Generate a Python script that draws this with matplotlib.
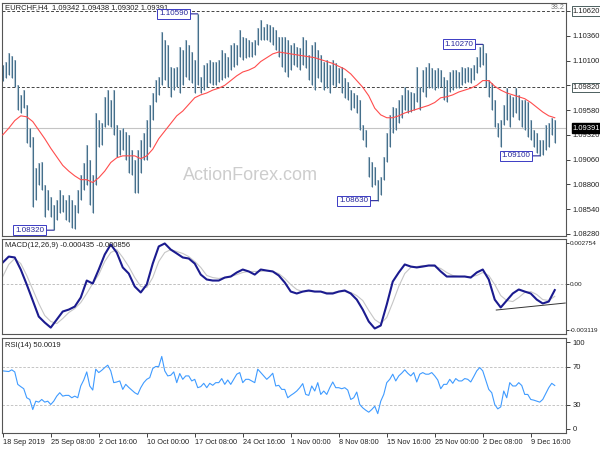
import numpy as np
import matplotlib
matplotlib.use('Agg')
import matplotlib.pyplot as plt
from matplotlib.transforms import blended_transform_factory

plt.rcParams['font.family'] = ['Liberation Sans', 'DejaVu Sans']
plt.rcParams['font.size'] = 5.5

## EURCHF H4, one entry = 2 bars (high / low)
hi = [1.1005, 1.1009, 1.1018, 1.1015, 1.1011, 1.0984, 1.0974, 1.0979, 1.0963, 1.0939,
      1.0930, 1.0897, 1.0903, 1.0904, 1.0879, 1.0874, 1.0867, 1.0858, 1.0864, 1.0874,
      1.0869, 1.0864, 1.0869, 1.0864, 1.0858, 1.0874, 1.0890, 1.0903, 1.0921, 1.0906,
      1.0890, 1.0955, 1.0948, 1.0945, 1.0972, 1.0979, 1.0969, 1.0979, 1.0942, 1.0937,
      1.0939, 1.0935, 1.0932, 1.0916, 1.0906, 1.0916, 1.0927, 1.0934, 1.0948, 1.0963,
      1.0976, 1.0990, 1.0993, 1.1040, 1.1032, 1.1026, 1.1003, 1.1002, 1.1003, 1.1024,
      1.1021, 1.1032, 1.1026, 1.1019, 1.1011, 1.1059, 1.0993, 1.1005, 1.1007, 1.1011,
      1.1009, 1.1009, 1.1011, 1.1021, 1.1018, 1.1014, 1.1026, 1.1028, 1.1026, 1.1042,
      1.1035, 1.1034, 1.1032, 1.1029, 1.1032, 1.1044, 1.1053, 1.1045, 1.1048, 1.1047,
      1.1045, 1.1042, 1.1035, 1.1035, 1.1035, 1.1032, 1.1026, 1.1028, 1.1024, 1.1023,
      1.1035, 1.1032, 1.1016, 1.1026, 1.1029, 1.1021, 1.1016, 1.1009, 1.1011, 1.1005,
      1.1011, 1.1007, 1.1002, 1.1003, 1.0992, 1.0988, 1.0979, 1.0976, 1.0974, 1.0969,
      1.0942, 1.0937, 1.0909, 1.0904, 1.0898, 1.0885, 1.0888, 1.0909, 1.0934, 1.0953,
      1.0961, 1.0960, 1.0969, 1.0974, 1.0982, 1.0979, 1.0977, 1.0976, 1.1003, 1.0982,
      1.1000, 1.1003, 1.1007, 1.1002, 1.1000, 1.1002, 1.1000, 1.0993, 1.0990, 1.0998,
      1.1000, 1.1000, 1.0998, 1.1003, 1.1002, 1.1003, 1.1002, 1.1005, 1.1014, 1.1024,
      1.1027, 1.1018, 1.0990, 1.0986, 1.0969, 1.0945, 1.0948, 1.0963, 1.0981, 1.0974,
      1.0972, 1.0981, 1.0974, 1.0969, 1.0969, 1.0966, 1.0948, 1.0937, 1.0934, 1.0927,
      1.0927, 1.0942, 1.0945, 1.0950, 1.0948]
lo = [1.0989, 1.0992, 1.0995, 1.0992, 1.0982, 1.0958, 1.0955, 1.0960, 1.0924, 1.0919,
      1.0856, 1.0864, 1.0879, 1.0874, 1.0846, 1.0853, 1.0846, 1.0832, 1.0843, 1.0850,
      1.0851, 1.0843, 1.0841, 1.0834, 1.0833, 1.0850, 1.0864, 1.0874, 1.0879, 1.0858,
      1.0850, 1.0879, 1.0919, 1.0921, 1.0940, 1.0942, 1.0940, 1.0932, 1.0909, 1.0911,
      1.0916, 1.0906, 1.0892, 1.0890, 1.0871, 1.0871, 1.0892, 1.0906, 1.0906, 1.0919,
      1.0948, 1.0966, 1.0974, 1.0984, 1.0990, 1.0982, 1.0972, 1.0979, 1.0982, 1.0976,
      1.0984, 1.0993, 1.0990, 1.0986, 1.0976, 1.0984, 1.0976, 1.0979, 1.0982, 1.0986,
      1.0984, 1.0984, 1.0988, 1.0990, 1.0992, 1.0993, 1.1000, 1.1003, 1.1005, 1.1014,
      1.1011, 1.1013, 1.1014, 1.1014, 1.1016, 1.1026, 1.1032, 1.1032, 1.1032, 1.1029,
      1.1026, 1.1021, 1.1014, 1.1003, 1.0998, 1.0993, 1.1000, 1.1005, 1.1003, 1.1000,
      1.1005, 1.1002, 1.0990, 1.0984, 1.0979, 1.0992, 1.0988, 1.0979, 1.0981, 1.0976,
      1.0984, 1.0982, 1.0986, 1.0976, 1.0971, 1.0969, 1.0958, 1.0960, 1.0955, 1.0937,
      1.0927, 1.0919, 1.0888, 1.0877, 1.0879, 1.0863, 1.0869, 1.0885, 1.0904, 1.0919,
      1.0934, 1.0937, 1.0945, 1.0950, 1.0958, 1.0955, 1.0956, 1.0958, 1.0966, 1.0958,
      1.0977, 1.0972, 1.0981, 1.0981, 1.0979, 1.0981, 1.0982, 1.0969, 1.0967, 1.0977,
      1.0979, 1.0981, 1.0981, 1.0984, 1.0986, 1.0988, 1.0986, 1.0990, 1.0997, 1.1003,
      1.1005, 1.0982, 1.0972, 1.0958, 1.0940, 1.0930, 1.0919, 1.0942, 1.0948, 1.0940,
      1.0951, 1.0955, 1.0948, 1.0940, 1.0937, 1.0930, 1.0927, 1.0919, 1.0913, 1.0910,
      1.0911, 1.0916, 1.0919, 1.0932, 1.0924]

## moving average, MACD, signal : one entry = 4 bars
ma = [1.0932, 1.0939, 1.0947, 1.0952, 1.0951, 1.0946, 1.0937, 1.0928, 1.0918, 1.0909,
      1.0900, 1.0894, 1.0889, 1.0885, 1.0885, 1.0882, 1.0887, 1.0894, 1.0903, 1.0908,
      1.0910, 1.0910, 1.0910, 1.0907, 1.0910, 1.0917, 1.0928, 1.0936, 1.0944, 1.0952,
      1.0957, 1.0964, 1.0971, 1.0974, 1.0976, 1.0979, 1.0981, 1.0984, 1.0989, 1.0994,
      1.0998, 1.1000, 1.1003, 1.1009, 1.1013, 1.1017, 1.1019, 1.1018, 1.1017, 1.1016,
      1.1015, 1.1014, 1.1013, 1.1011, 1.1009, 1.1007, 1.1004, 1.1001, 1.0996, 1.0989,
      1.0982, 1.0973, 1.0960, 1.0953, 1.0950, 1.0950, 1.0952, 1.0955, 1.0957, 1.0959,
      1.0961, 1.0963, 1.0966, 1.0971, 1.0972, 1.0974, 1.0977, 1.0979, 1.0981, 1.0984,
      1.0989, 1.0989, 1.0983, 1.0979, 1.0976, 1.0974, 1.0972, 1.0970, 1.0966, 1.0961,
      1.0956, 1.0952, 1.0950]
macd = [0.00141, 0.00181, 0.00175, 0.00094, -0.00007, -0.00114, -0.00222, -0.00262, -0.00296, -0.00242,
        -0.00188, -0.00175, -0.00155, -0.00094, 0.00020, 0.0, 0.00094, 0.00195, 0.00262, 0.00208,
        0.00108, 0.00067, -0.00020, -0.00060, -0.00007, 0.00134, 0.00249, 0.00269, 0.00228, 0.00202,
        0.00175, 0.00168, 0.00134, 0.00060, 0.00027, 0.00020, 0.00020, 0.00040, 0.00047, 0.00074,
        0.00094, 0.00081, 0.00060, 0.00094, 0.00087, 0.00081, 0.00054, 0.00007, -0.00054, -0.00067,
        -0.00054, -0.00047, -0.00054, -0.00054, -0.00067, -0.00067, -0.00054, -0.00047, -0.00067, -0.00108,
        -0.00175, -0.00255, -0.00302, -0.00282, -0.00141, 0.00013, 0.00074, 0.00128, 0.00114, 0.00108,
        0.00114, 0.00121, 0.00121, 0.00081, 0.00047, 0.00047, 0.00047, 0.00047, 0.00040, 0.00074,
        0.00094, 0.00027, -0.00108, -0.00161, -0.00114, -0.00067, -0.00040, -0.00054, -0.00067, -0.00108,
        -0.00134, -0.00121, -0.00044]
signal = [0.00047, 0.00128, 0.00168, 0.00134, 0.00054, -0.00040, -0.00134, -0.00215, -0.00255, -0.00269,
          -0.00235, -0.00195, -0.00168, -0.00128, -0.00067, 0.0, 0.00060, 0.00148, 0.00208, 0.00228,
          0.00175, 0.00114, 0.00040, -0.00020, -0.00027, 0.00040, 0.00148, 0.00208, 0.00228, 0.00215,
          0.00202, 0.00181, 0.00148, 0.00108, 0.00054, 0.00040, 0.00034, 0.00040, 0.00047, 0.00060,
          0.00074, 0.00081, 0.00081, 0.00081, 0.00087, 0.00081, 0.00067, 0.00034, -0.00007, -0.00040,
          -0.00054, -0.00054, -0.00054, -0.00054, -0.00060, -0.00060, -0.00054, -0.00054, -0.00060, -0.00081,
          -0.00114, -0.00181, -0.00242, -0.00269, -0.00228, -0.00128, -0.00020, 0.00067, 0.00108, 0.00114,
          0.00121, 0.00121, 0.00114, 0.00101, 0.00074, 0.00054, 0.00047, 0.00047, 0.00047, 0.00054,
          0.00074, 0.00054, -0.00007, -0.00081, -0.00114, -0.00121, -0.00094, -0.00060, -0.00054, -0.00074,
          -0.00108, -0.00114, -0.00086]

## RSI(14) : one entry = 2 bars
rsi = [65.4, 65.0, 64.7, 66.5, 64.3, 51.2, 48.8, 46.6, 37.1, 35.3,
       24.7, 33.5, 32.5, 35.3, 32.5, 33.5, 30.0, 33.5, 38.8, 42.4,
       38.8, 39.6, 39.6, 37.1, 38.8, 37.1, 49.5, 55.8, 64.3, 49.5,
       45.2, 67.2, 63.6, 66.0, 68.9, 71.4, 65.4, 53.0, 53.7, 54.8,
       45.9, 51.2, 48.0, 45.2, 42.4, 40.6, 47.7, 53.0, 56.5, 58.3,
       67.9, 70.0, 70.0, 80.6, 65.4, 60.1, 60.8, 64.3, 53.0, 62.6,
       56.5, 60.1, 60.1, 54.8, 56.5, 47.7, 48.8, 52.3, 47.7, 52.3,
       50.2, 53.0, 53.0, 57.3, 51.2, 55.8, 51.2, 56.5, 61.9, 63.6,
       53.0, 56.5, 56.5, 54.8, 53.0, 67.2, 63.6, 60.1, 56.5, 59.4,
       62.9, 49.5, 50.2, 45.9, 45.9, 37.1, 39.6, 41.7, 44.2, 47.7,
       52.0, 40.6, 39.6, 49.5, 44.2, 53.0, 40.6, 44.2, 40.6, 47.7,
       53.7, 47.7, 47.7, 46.6, 47.7, 45.2, 35.3, 37.1, 43.1, 30.0,
       26.5, 24.0, 21.9, 24.7, 28.2, 20.4, 33.5, 40.6, 53.0, 56.5,
       61.9, 54.8, 60.1, 63.0, 66.5, 62.9, 60.1, 63.6, 53.7, 61.9,
       63.6, 61.9, 61.9, 63.6, 60.1, 55.8, 46.6, 51.2, 51.2, 56.5,
       52.3, 57.3, 54.8, 54.8, 57.3, 56.5, 53.7, 59.4, 65.4, 68.9,
       65.4, 55.6, 45.9, 42.4, 30.0, 25.4, 27.5, 44.2, 37.1, 53.0,
       49.5, 49.5, 53.0, 50.0, 40.6, 40.6, 35.3, 34.6, 33.5, 32.5,
       35.3, 41.5, 47.7, 52.3, 50.0]

swing_bar = [130, 320, 34, 250, 358]
swing_price = [1.1059, 1.1027, 1.0832, 1.0863, 1.0910]
level_lines = [1.1062, 1.0982]
last_price = 1.09391
price_ticks = [1.0828, 1.0854, 1.0880, 1.0906, 1.0932, 1.0958, 1.0984, 1.1010, 1.1036, 1.1062]
macd_trend_bar = [329, 375]
macd_trend_val = [-0.00178, -0.00131]
date_labels = ['18 Sep 2019', '25 Sep 08:00', '2 Oct 16:00', '10 Oct 00:00', '17 Oct 08:00',
               '24 Oct 16:00', '1 Nov 00:00', '8 Nov 08:00', '15 Nov 16:00', '25 Nov 00:00',
               '2 Dec 08:00', '9 Dec 16:00']
bars_per_label = 32

W, H = 600, 450
fig = plt.figure(figsize=(6, 4.5), dpi=100)


def panel(x0, y0, x1, y1):
    return fig.add_axes([x0 / W, 1 - y1 / H, (x1 - x0) / W, (y1 - y0) / H])


ax = panel(2, 3, 566, 236)
ax2 = panel(2, 239, 566, 334)
ax3 = panel(2, 338, 566, 433)

for a in (ax, ax2, ax3):
    a.set_xlim(-0.5, 375.5)
    for s in a.spines.values():
        s.set_color('#555555')
        s.set_linewidth(0.8)
    a.yaxis.tick_right()
    a.tick_params(axis='y', length=3, width=0.6, pad=2, colors='#222222', labelsize=5.5)
    a.set_facecolor('white')

# price panel
xb = np.arange(len(hi)) * 2
ax.vlines(xb, lo, hi, color='#b4c6d3', lw=1.5, zorder=2)
ax.vlines(xb, lo, hi, color='#456f8b', lw=0.75, zorder=3)
ax.plot(np.arange(len(ma)) * 4, ma, color='#ff4d4d', lw=0.8, zorder=4)
for lv in level_lines:
    ax.axhline(lv, color='#444444', lw=0.7, ls=(0, (3, 2)), zorder=1)
ax.axhline(last_price, color='#c4c4c4', lw=0.8, zorder=1)
ax.set_ylim(1.08259, 1.10704)
ax.set_xticks([])
ax.set_yticks(price_ticks)
ax.set_yticklabels(['%.5f' % p for p in price_ticks])

ax.text(0.44, 0.26, 'ActionForex.com', transform=ax.transAxes, fontsize=13,
        color='#cdcdcd', ha='center', va='center', zorder=0.5)
ax.text(0.006, 0.997, 'EURCHF,H4  1.09342 1.09438 1.09302 1.09391', transform=ax.transAxes,
        ha='left', va='top', fontsize=5.5, color='#222222')
ax.text(0.997, 0.997, '38.2', transform=ax.transAxes, ha='right', va='top',
        fontsize=5, color='#777777')

for b, p in zip(swing_bar, swing_price):
    ax.annotate('%.5f' % p, xy=(b, p), xytext=(-7, 0), textcoords='offset points',
                ha='right', va='center', fontsize=5.8, color='#26269a', zorder=6,
                bbox=dict(boxstyle='square,pad=0.2', fc='white', ec='#3b3bc4', lw=0.7),
                arrowprops=dict(arrowstyle='-', color='#26269a', lw=0.8, shrinkA=0, shrinkB=0))

tr = blended_transform_factory(ax.transAxes, ax.transData)
for lv in level_lines:
    ax.text(1.012, lv, '%.5f' % lv, transform=tr, ha='left', va='center', fontsize=5.5,
            color='#222222', clip_on=False, zorder=7,
            bbox=dict(boxstyle='square,pad=0.15', fc='white', ec='#2f4545', lw=0.6))
ax.text(1.012, last_price, '%.5f' % last_price, transform=tr, ha='left', va='center',
        fontsize=5.5, color='white', clip_on=False, zorder=7,
        bbox=dict(boxstyle='square,pad=0.15', fc='black', ec='black'))

# MACD panel
xl = np.arange(len(macd)) * 4
ax2.axhline(0, color='#b5b5b5', lw=0.6, ls=(0, (3, 2)))
ax2.plot(xl, signal, color='#c6c6c6', lw=0.8)
ax2.plot(xl, macd, color='#1b1b8f', lw=1.5)
ax2.plot(macd_trend_bar, macd_trend_val, color='#333333', lw=0.7)
ax2.set_ylim(-0.00339, 0.00299)
ax2.set_xticks([])
ax2.set_yticks([0.002754, 0.0, -0.003119])
ax2.set_yticklabels(['0.002754', '0.00', '-0.003119'])
ax2.tick_params(axis='y', labelsize=4.6, pad=1, length=2)
ax2.text(0.006, 0.97, 'MACD(12,26,9) -0.000435 -0.000856', transform=ax2.transAxes,
         ha='left', va='top', fontsize=5.5, color='#222222')

# RSI panel
ax3.axhline(70, color='#bbbbbb', lw=0.6, ls=(0, (3, 2)))
ax3.axhline(30, color='#bbbbbb', lw=0.6, ls=(0, (3, 2)))
ax3.plot(np.arange(len(rsi)) * 2, rsi, color='#3f9bff', lw=0.8)
ax3.set_ylim(0, 100)
ax3.set_yticks([4.5, 30, 70, 95.5])
ax3.set_yticklabels(['0', '30', '70', '100'])
ax3.text(0.006, 0.96, 'RSI(14) 50.0019', transform=ax3.transAxes,
         ha='left', va='top', fontsize=5.5, color='#222222')
ax3.set_xticks(np.arange(len(date_labels)) * bars_per_label)
ax3.set_xticklabels(date_labels)
ax3.tick_params(axis='x', length=3, width=0.6, pad=1.5, colors='#222222', labelsize=5.3)
for t in ax3.get_xticklabels():
    t.set_ha('left')

fig.savefig('out.png', dpi=100, facecolor='white')
